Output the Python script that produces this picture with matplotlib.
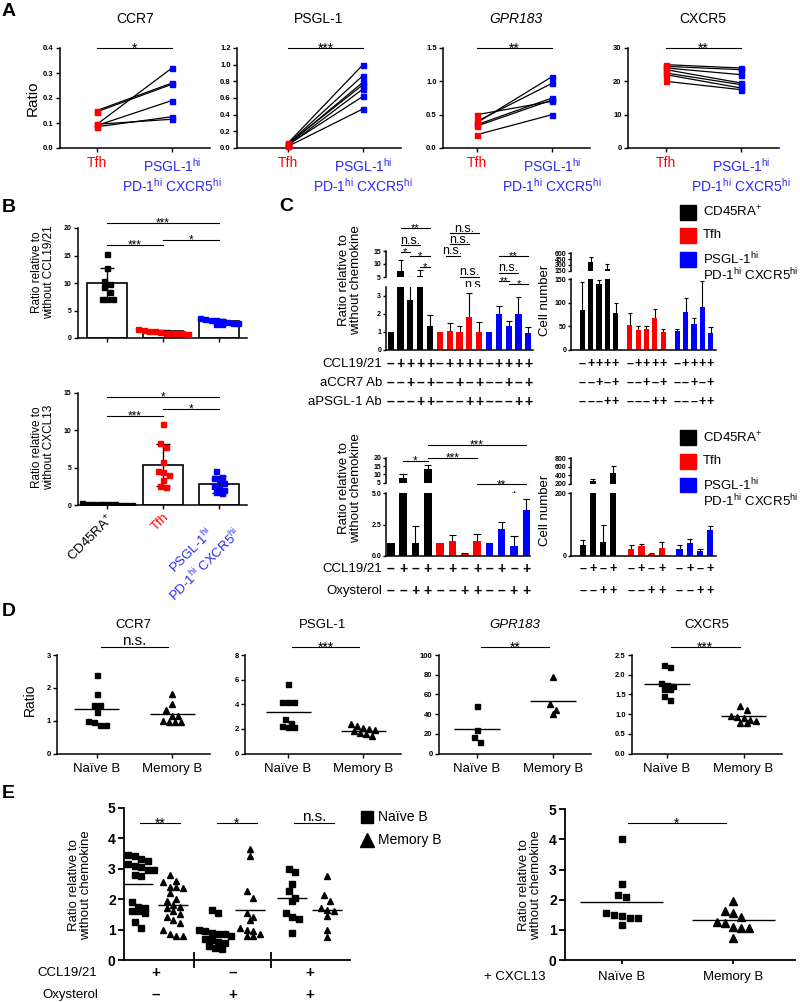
import numpy as np
import matplotlib
matplotlib.use("Agg")
import matplotlib.pyplot as plt
from matplotlib.transforms import blended_transform_factory as blend
from matplotlib.patches import Rectangle
from matplotlib.lines import Line2D

plt.rcParams['font.family'] = ['Liberation Sans', 'DejaVu Sans']
plt.rcParams['mathtext.fontset'] = 'custom'
plt.rcParams['mathtext.rm'] = 'Liberation Sans'
plt.rcParams['mathtext.it'] = 'Liberation Sans:italic'
plt.rcParams['mathtext.bf'] = 'Liberation Sans:bold'
plt.rcParams['mathtext.default'] = 'regular'

RED = '#ff0000'
BLUE = '#0000ff'
TBLUE = '#2a2aee'
PSGL = 'PSGL-1$^{hi}$\nPD-1$^{hi}$ CXCR5$^{hi}$'

# ==========================================================
# Data
# ==========================================================
# --- A: paired Tfh vs PSGL-1hi cells
a_titles = ['CCR7', 'PSGL-1', 'GPR183', 'CXCR5']
a_tfh = [[0.15, 0.145, 0.095, 0.09, 0.085, 0.095],
         [0.06, 0.05, 0.04, 0.05, 0.03, 0.04, 0.02],
         [0.5, 0.38, 0.4, 0.35, 0.33, 0.2],
         [25, 24.5, 24, 23.5, 22.5, 22, 20]]
a_psgl = [[0.26, 0.255, 0.32, 0.19, 0.125, 0.115],
          [1.0, 0.87, 0.79, 0.76, 0.71, 0.62, 0.47],
          [0.7, 1.07, 0.97, 0.75, 0.72, 0.5],
          [24, 23.5, 22, 19.5, 19, 18, 17.5]]
a_ymax = [0.4, 1.2, 1.5, 30]
a_ystep = [0.1, 0.2, 0.5, 10]
a_sig = ['*', '***', '**', '**']

# --- B: migration ratios, bars = mean +- SD
b_groups = ['CD45RA$^{+}$', 'Tfh', PSGL]
b_top_pts = [[15.3, 12.7, 10.4, 9.8, 9.3, 8.4, 7.1, 7.1, 7.1],
             [1.6, 1.5, 1.3, 1.2, 1.1, 1.0, 1.0, 0.9, 0.9, 0.8],
             [3.6, 3.5, 3.3, 3.3, 3.1, 3.0, 2.8, 2.7, 2.5, 2.5]]
b_top_mean = [10.0, 1.2, 3.05]
b_top_sd = [2.7, 0.3, 0.4]
b_bot_pts = [[0.3, 0.2, 0.2, 0.15, 0.1, 0.1, 0.1, 0.05, 0.05, 0.05],
             [10.8, 8.3, 7.8, 5.8, 4.6, 4.4, 4.0, 3.4, 2.6, 2.4],
             [4.5, 3.8, 3.6, 3.5, 3.0, 2.6, 2.4, 2.0, 1.7, 1.6]]
b_bot_mean = [0.12, 5.3, 2.75]
b_bot_sd = [0.08, 2.8, 1.1]

# --- C top: CCL19/21 +/- blocking antibodies (black, red, blue groups)
c1_ratio = [[1, 7.5, 2.75, 5.2, 1.35], [1, 1.05, 1.0, 1.8, 1.0], [1, 2.0, 1.35, 2.0, 0.92]]
c1_ratio_err = [[0, 4.0, 2.35, 2.4, 0.6], [0, 0.42, 0.32, 1.35, 0.55], [0, 0.45, 0.25, 0.95, 0.33]]
c1_cells = [[85, 370, 140, 200, 78], [52, 42, 45, 68, 37], [41, 80, 55, 91, 35]]
c1_cells_err = [[58, 130, 7, 130, 22], [27, 9, 5, 18, 7], [4, 30, 12, 55, 13]]
c1_ccl = ['–', '+', '+', '+', '+']
c1_accr7 = ['–', '–', '+', '–', '+']
c1_apsgl = ['–', '–', '–', '+', '+']

# --- C bottom: CCL19/21 +/- oxysterol
c2_ratio = [[1, 8.0, 1.0, 13.0], [1, 1.2, 0.1, 1.15], [1, 2.1, 0.8, 3.7]]
c2_ratio_err = [[0, 2.0, 1.35, 2.5], [0, 0.45, 0.15, 0.6], [0, 0.6, 0.75, 0.85]]
c2_cells = [[35, 280, 45, 450], [22, 30, 5, 25], [20, 40, 15, 82]]
c2_cells_err = [[15, 45, 55, 180], [12, 6, 3, 18], [15, 12, 8, 12]]
c2_ccl = ['–', '+', '–', '+']
c2_oxy = ['–', '–', '+', '+']

# --- D: naive vs memory B cells
d_titles = ['CCR7', 'PSGL-1', 'GPR183', 'CXCR5']
d_naive = [[2.4, 1.82, 1.48, 1.48, 1.25, 0.99, 0.97, 0.88, 0.88],
           [5.65, 4.18, 4.18, 4.18, 2.84, 2.5, 2.24, 2.18, 2.18],
           [48, 23.6, 16.4, 12.1],
           [2.25, 2.2, 1.8, 1.74, 1.71, 1.64, 1.64, 1.47, 1.37]]
d_memory = [[1.8, 1.5, 1.31, 1.13, 1.13, 0.99, 0.95, 0.95, 0.95],
            [2.4, 2.25, 2.05, 2.0, 1.9, 1.8, 1.7, 1.6, 1.4],
            [78, 50, 44, 40],
            [1.2, 1.1, 0.95, 0.92, 0.9, 0.85, 0.82, 0.78, 0.78]]
d_naive_mean = [1.37, 3.33, 25.2, 1.76]
d_memory_mean = [1.2, 1.83, 53.1, 0.95]
d_ymax = [3, 8, 100, 2.5]
d_ystep = [1, 2, 20, 0.5]
d_sig = ['n.s.', '***', '**', '***']

# --- E left: three conditions
e_naive = [[3.45, 3.4, 3.3, 3.25, 3.15, 3.15, 3.1, 3.05, 2.95, 2.95, 2.8, 2.75,
            1.9, 1.75, 1.7, 1.6, 1.6, 1.55, 1.25, 1.05],
           [1.65, 1.55, 1.0, 0.95, 0.9, 0.85, 0.85, 0.8, 0.7, 0.65, 0.6, 0.55, 0.45, 0.4, 0.35],
           [3.0, 2.9, 2.5, 2.25, 2.05, 1.95, 1.55, 1.4, 1.35, 0.9]]
e_memory = [[2.8, 2.6, 2.55, 2.4, 2.4, 2.35, 2.2, 2.0, 1.95, 1.8, 1.75, 1.7, 1.6, 1.5,
             1.4, 1.3, 1.2, 1.0, 0.85, 0.8, 0.8],
            [3.65, 3.4, 2.25, 2.05, 1.55, 1.4, 1.3, 1.05, 1.0, 0.95, 0.85, 0.8, 0.8],
            [2.75, 2.15, 1.95, 1.7, 1.65, 1.6, 1.45, 1.0, 0.75]]
e_naive_mean = [2.5, 0.9, 2.05]
e_memory_mean = [1.8, 1.65, 1.65]
e_sig = ['**', '*', 'n.s.']
e_ccl = ['+', '–', '+']
e_oxy = ['–', '+', '+']

# --- E right: + CXCL13
er_naive = [4.0, 2.52, 2.16, 2.1, 1.57, 1.49, 1.47, 1.4, 1.4, 1.16]
er_memory = [1.97, 1.63, 1.57, 1.44, 1.25, 1.22, 1.1, 1.07, 1.05, 0.72]
er_naive_mean = 1.91
er_memory_mean = 1.32


# ==========================================================
# Helpers (layout in pixels of the 800 x 1002 canvas)
# ==========================================================
W, H = 800, 1002
fig = plt.figure(figsize=(W / 100, H / 100), dpi=100)


def fx(x):
    return x / W


def fy(y):
    return 1 - y / H


def make_ax(left, top, right, bottom):
    ax = fig.add_axes([fx(left), fy(bottom), (right - left) / W, (bottom - top) / H])
    for s in ('top', 'right'):
        ax.spines[s].set_visible(False)
    for s in ('left', 'bottom'):
        ax.spines[s].set_linewidth(1.1)
    ax.tick_params(width=1, length=3, labelsize=5.5, pad=1.5)
    return ax


def cat_ax(spine, first, step, top, bottom, hi):
    # one x data unit = `step` pixels, x=0 sits at pixel `first`
    ax = make_ax(spine, top, first + hi * step, bottom)
    ax.set_xlim((spine - first) / step, hi)
    return ax


def bold_yticks(ax, size=5.5, fmt=None):
    ticks = ax.get_yticks()
    if fmt is not None:
        ax.set_yticklabels([fmt % t for t in ticks])
    for t in ax.get_yticklabels():
        t.set_fontweight('bold')
        t.set_fontsize(size)


def bracket(ax, x0, x1, ypx, label, fs=9, ns_fs=10):
    tr = blend(ax.transData, fig.transFigure)
    ax.plot([x0, x1], [fy(ypx), fy(ypx)], color='black', lw=0.8,
            transform=tr, clip_on=False)
    if '*' in label:
        # asterisks sit high in the em box: drop the baseline below the line
        off = 0.42 * fs * 100 / 72 - 1.2
        ax.text((x0 + x1) / 2, fy(ypx + off), label, transform=tr,
                ha='center', va='baseline', fontsize=fs)
    else:
        ax.text((x0 + x1) / 2, fy(ypx - 1.5), label, transform=tr,
                ha='center', va='baseline', fontsize=ns_fs)


def sign_row(ax, xs, signs, ypx, fs=10):
    tr = blend(ax.transData, fig.transFigure)
    for x, s in zip(xs, signs):
        ax.text(x, fy(ypx), s, transform=tr, ha='center', va='center',
                fontsize=fs, fontweight='bold')


def swarm(ax, vals, size_px):
    # spread equal-ish values side by side, like a scatter dot plot
    vals = np.asarray(vals, float)
    y0, y1 = ax.get_ylim()
    x0, x1 = ax.get_xlim()
    bb = ax.get_position()
    dy = size_px / (bb.height * H / (y1 - y0))
    dx = size_px / (bb.width * W / (x1 - x0))
    order = np.argsort(-vals, kind='stable')
    offs = np.zeros(len(vals))
    rows, cur, start = [], [], None
    for i in order:
        if cur and vals[start] - vals[i] > dy:
            rows.append(cur)
            cur = []
        if not cur:
            start = i
        cur.append(i)
    rows.append(cur)
    for r in rows:
        n = len(r)
        for k, i in enumerate(r):
            offs[i] = (k - (n - 1) / 2) * dx
    return offs


def err_up(ax, xs, vals, errs, cw=0.3):
    for x, v, e in zip(xs, vals, errs):
        if e <= 0:
            continue
        ax.vlines(x, v, v + e, color='black', lw=0.8, zorder=1)
        ax.hlines(v + e, x - cw, x + cw, color='black', lw=0.8, zorder=1)


def panel_letter(x, y, s):
    fig.text(fx(x), fy(y), s, fontsize=14, fontweight='bold', ha='left', va='top')


# ==========================================================
# A
# ==========================================================
a_spine = [60, 237, 443, 628]
a_first = [97, 288, 477, 666]
for i in range(4):
    ax = cat_ax(a_spine[i], a_first[i], 75, 48, 148, 1.5)
    for t, p in zip(a_tfh[i], a_psgl[i]):
        ax.plot([0, 1], [t, p], color='black', lw=0.9, zorder=2)
    ax.plot(np.zeros(len(a_tfh[i])), a_tfh[i], 's', color=RED, ms=3.6, zorder=3, clip_on=False)
    ax.plot(np.ones(len(a_psgl[i])), a_psgl[i], 's', color=BLUE, ms=3.6, zorder=3, clip_on=False)
    ax.set_ylim(0, a_ymax[i])
    ax.set_yticks(np.arange(0, a_ymax[i] + a_ystep[i] / 2, a_ystep[i]))
    bold_yticks(ax, 5.5, '%.1f' if a_ystep[i] < 1 else '%d')
    ax.set_xticks([0, 1])
    ax.set_xticklabels(['Tfh', PSGL], fontsize=10)
    ax.tick_params(axis='x', pad=3)
    ax.get_xticklabels()[0].set_color(RED)
    ax.get_xticklabels()[1].set_color(TBLUE)
    ax.text(0.5, fy(19), a_titles[i], transform=blend(ax.transAxes, fig.transFigure),
            ha='center', va='center', fontsize=10,
            style='italic' if a_titles[i] == 'GPR183' else 'normal')
    bracket(ax, 0, 1, 48, a_sig[i], fs=10)
fig.text(fx(33), fy(98), 'Ratio', rotation=90, ha='center', va='center', fontsize=11)

# ==========================================================
# B
# ==========================================================
b_cols = ['black', RED, BLUE]
b_specs = [(228, 338, 20, 5, b_top_pts, b_top_mean, b_top_sd,
            'Ratio relative to\nwithout CCL19/21', 272,
            [('***', 0, 2, 222.5), ('***', 0, 1, 245), ('*', 1, 2, 240)]),
           (392.7, 505, 15, 5, b_bot_pts, b_bot_mean, b_bot_sd,
            'Ratio relative to\nwithout CXCL13', 447,
            [('*', 0, 2, 396.7), ('***', 0, 1, 415.7), ('*', 1, 2, 409)])]
for k, (top, bot, ymax, ystep, pts, mean, sd, ylab, ylab_y, sigs) in enumerate(b_specs):
    ax = cat_ax(78, 107, 56, top, bot, 2.5)
    ax.set_ylim(0, ymax)
    ax.set_yticks(np.arange(0, ymax + 1, ystep))
    bold_yticks(ax, 5, '%d')
    ax.bar(range(3), mean, width=0.7, color='white', edgecolor='black', lw=1.2, zorder=1)
    ax.errorbar(range(3), mean, yerr=sd, fmt='none', ecolor='black', elinewidth=1,
                capsize=5, capthick=1, zorder=2)
    for g in range(3):
        offs = swarm(ax, pts[g], 5.5)
        ax.plot(g + offs, pts[g], 's', color=b_cols[g], ms=3.6, zorder=3)
    ax.set_xticks(range(3))
    if k == 0:
        ax.set_xticklabels([])
    else:
        ax.set_xticklabels(b_groups, rotation=45, ha='right', rotation_mode='anchor',
                           fontsize=9.5, multialignment='center')
        for lab, c in zip(ax.get_xticklabels(), ['black', RED, TBLUE]):
            lab.set_color(c)
    for lab, g0, g1, ypx in sigs:
        bracket(ax, g0, g1, ypx, lab, fs=8.5)
    fig.text(fx(43), fy(ylab_y), ylab, rotation=90, ha='center', va='center', fontsize=8.5,
             linespacing=1.1)

# ==========================================================
# C
# ==========================================================
c_cols = ['black', RED, BLUE]


def broken_bars(spine, first, step, hi, up_box, low_box, up_lim, low_lim, up_ticks,
                low_ticks, xs, vals, errs, cols, fmt_low='%d', cw=0.3):
    up = cat_ax(spine, first, step, up_box[0], up_box[1], hi)
    low = cat_ax(spine, first, step, low_box[0], low_box[1], hi)
    up.spines['bottom'].set_visible(False)
    up.tick_params(axis='x', length=0, labelbottom=False)
    low.tick_params(axis='x', length=0, labelbottom=False)
    for ax, lim, ticks, fmt in ((up, up_lim, up_ticks, '%d'), (low, low_lim, low_ticks, fmt_low)):
        ax.bar(xs, vals, width=0.62, color=cols, zorder=2)
        err_up(ax, xs, vals, errs, cw)
        ax.set_ylim(*lim)
        ax.set_yticks(ticks)
        bold_yticks(ax, 5, fmt)
        ax.tick_params(axis='y', length=2.5, pad=1)
    return up, low


# top-left: ratio
x1 = np.arange(15)
v1 = np.concatenate(c1_ratio)
e1 = np.concatenate(c1_ratio_err)
col15 = [c for c in c_cols for _ in range(5)]
up, low = broken_bars(386, 390.7, 9.83, 14.5, (251, 277), (286.6, 350), (5, 15), (0, 3.5),
                      [5, 10, 15], [0, 1, 2, 3], x1, v1, e1, col15)
for lab, i, j, ypx in [('**', 1, 4, 228), ('n.s.', 1, 3, 245), ('*', 1, 2, 252),
                       ('*', 2, 4, 255.5), ('*', 3, 4, 266.7),
                       ('n.s.', 6, 9, 233.3), ('n.s.', 6, 8, 244.3), ('n.s.', 5.6, 7, 256),
                       ('n.s.', 7, 9, 276.7), ('n.s.', 8, 9, 290),
                       ('**', 11, 14, 255.7), ('n.s.', 11, 13, 272.5), ('**', 11, 12, 280.5),
                       ('*', 12, 14, 283.8), ('*', 13, 14, 294.3)]:
    bracket(up, i, j, ypx, lab, fs=8, ns_fs=9)
sign_row(low, x1, c1_ccl * 3, 364)
sign_row(low, x1, c1_accr7 * 3, 383)
sign_row(low, x1, c1_apsgl * 3, 402)
for txt, ypx in [('CCL19/21', 364), ('aCCR7 Ab', 383), ('aPSGL-1 Ab', 402)]:
    fig.text(fx(382), fy(ypx), txt, ha='right', va='center', fontsize=9.5)

# top-right: cell number
x1c = np.array([g * 5.7 + k for g in range(3) for k in range(5)])
up, low = broken_bars(571, 582.3, 8.33, 16.0, (253.3, 270.7), (279, 350), (150, 600), (0, 150),
                      [150, 300, 450, 600], [0, 50, 100, 150], x1c,
                      np.concatenate(c1_cells), np.concatenate(c1_cells_err), col15, cw=0.25)
sign_row(low, x1c, c1_ccl * 3, 364, fs=9)
sign_row(low, x1c, c1_accr7 * 3, 383, fs=9)
sign_row(low, x1c, c1_apsgl * 3, 402, fs=9)

# bottom-left: ratio
x2 = np.arange(12)
col12 = [c for c in c_cols for _ in range(4)]
up, low = broken_bars(386, 390.7, 12.33, 11.3, (457.7, 482.7), (493.3, 555.7), (5, 20), (0, 5),
                      [5, 10, 15, 20], [0, 2.5, 5.0], x2, np.concatenate(c2_ratio),
                      np.concatenate(c2_ratio_err), col12, fmt_low='%.1f')
for lab, i, j, ypx in [('***', 3, 11, 445), ('***', 3, 7, 457.7), ('*', 1, 3, 461),
                       ('**', 7, 11, 484.3), ('*', 9, 11, 495.7), ('n.s.', 5, 7, 530)]:
    bracket(up, i, j, ypx, lab, fs=8.5, ns_fs=10)
sign_row(low, x2, c2_ccl * 3, 569)
sign_row(low, x2, c2_oxy * 3, 591)
for txt, ypx in [('CCL19/21', 569), ('Oxysterol', 591)]:
    fig.text(fx(382), fy(ypx), txt, ha='right', va='center', fontsize=9.5)

# bottom-right: cell number
x2c = np.array([g * 4.75 + k for g in range(3) for k in range(4)])
up, low = broken_bars(571, 582.7, 10.2, 13.1, (458.3, 484), (493.3, 555.7), (200, 800), (0, 200),
                      [200, 400, 600, 800], [0, 200], x2c, np.concatenate(c2_cells),
                      np.concatenate(c2_cells_err), col12, cw=0.25)
sign_row(low, x2c, c2_ccl * 3, 569, fs=9)
sign_row(low, x2c, c2_oxy * 3, 591, fs=9)

for ypx in (280, 488):
    fig.text(fx(350), fy(ypx), 'Ratio relative to\nwithout chemokine', rotation=90,
             ha='center', va='center', fontsize=9.5, linespacing=1.1)
for ypx in (300, 510):
    fig.text(fx(545), fy(ypx), 'Cell number', rotation=90, ha='center', va='center',
             fontsize=9.5)

# legends
leg_labels = ['CD45RA$^{+}$', 'Tfh', 'PSGL-1$^{hi}$']
for base in (212, 438):
    for k, (lab, c) in enumerate(zip(leg_labels, c_cols)):
        yc = base + k * 23.5
        fig.add_artist(Rectangle((fx(680), fy(yc + 7.5)), 16 / W, 15 / H,
                                 transform=fig.transFigure, color=c))
        fig.text(fx(703), fy(yc), lab, ha='left', va='center', fontsize=9.5)
    fig.text(fx(703), fy(base + 2 * 23.5 + 16), 'PD-1$^{hi}$ CXCR5$^{hi}$', ha='left',
             va='center', fontsize=9.5)

# ==========================================================
# D
# ==========================================================
d_spine = [57, 245, 439, 632]
d_first = [97, 288, 477, 667]
d_step = [75, 75, 76, 76.5]
for i in range(4):
    ax = cat_ax(d_spine[i], d_first[i], d_step[i], 655, 753.5, 1.5)
    ax.set_ylim(0, d_ymax[i])
    ax.set_yticks(np.arange(0, d_ymax[i] + d_ystep[i] / 2, d_ystep[i]))
    bold_yticks(ax, 5.5, '%.1f' if d_ystep[i] < 1 else '%d')
    for g, (pts, mk, mean) in enumerate([(d_naive[i], 's', d_naive_mean[i]),
                                         (d_memory[i], '^', d_memory_mean[i])]):
        offs = swarm(ax, pts, 6.2)
        ax.plot(g + offs, pts, mk, color='black', ms=3.6 if mk == 's' else 4)
        ax.hlines(mean, g - 0.3, g + 0.3, color='black', lw=1)
    ax.set_xticks([0, 1])
    ax.set_xticklabels(['Naïve B', 'Memory B'], fontsize=9.5)
    ax.tick_params(axis='x', pad=4)
    ax.text(0.5, fy(625), d_titles[i], transform=blend(ax.transAxes, fig.transFigure),
            ha='center', va='center', fontsize=9.5,
            style='italic' if d_titles[i] == 'GPR183' else 'normal')
    bracket(ax, 0.05, 0.95, 646.7, d_sig[i], fs=10, ns_fs=11)
fig.text(fx(30), fy(700), 'Ratio', rotation=90, ha='center', va='center', fontsize=10)

# ==========================================================
# E left
# ==========================================================
e_pos = [0, 1, 2.2, 3.2, 4.4, 5.4]
ax = cat_ax(124, 138, 35, 807.7, 960, 6.05)
ax.set_ylim(0, 5)
ax.set_yticks(range(6))
bold_yticks(ax, 10, '%d')
ax.tick_params(axis='y', length=4, width=1.3, pad=2)
for s in ('left', 'bottom'):
    ax.spines[s].set_linewidth(1.3)
for g in range(3):
    xn, xm = e_pos[2 * g], e_pos[2 * g + 1]
    offs = swarm(ax, e_naive[g], 6.5)
    ax.plot(xn + offs, e_naive[g], 's', color='black', ms=4.6)
    offs = swarm(ax, e_memory[g], 6.5)
    ax.plot(xm + offs, e_memory[g], '^', color='black', ms=4.8)
    ax.hlines(e_naive_mean[g], xn - 0.42, xn + 0.42, color='black', lw=1)
    ax.hlines(e_memory_mean[g], xm - 0.42, xm + 0.42, color='black', lw=1)
    bracket(ax, xn + 0.05, xm + 0.2, 822.7, e_sig[g], fs=10, ns_fs=11)
ax.set_xticks([1.6, 3.8])
ax.set_xticklabels([])
ax.tick_params(axis='x', direction='inout', length=12, width=1.3)
centers = [(e_pos[2 * g] + e_pos[2 * g + 1]) / 2 for g in range(3)]
sign_row(ax, centers, e_ccl, 973, fs=11)
sign_row(ax, centers, e_oxy, 995, fs=11)
fig.text(fx(97), fy(973), 'CCL19/21', ha='right', va='center', fontsize=9.5)
fig.text(fx(98), fy(995), 'Oxysterol', ha='right', va='center', fontsize=9.5)
fig.text(fx(80), fy(885), 'Ratio relative to\nwithout chemokine', rotation=90,
         ha='center', va='center', fontsize=9.5, linespacing=1.1)

# legend E
fig.add_artist(Line2D([fx(367)], [fy(817)], marker='s', ms=8.5, color='black',
                      transform=fig.transFigure))
fig.add_artist(Line2D([fx(367)], [fy(840)], marker='^', ms=10, color='black',
                      transform=fig.transFigure))
fig.text(fx(378), fy(817), 'Naïve B', ha='left', va='center', fontsize=10)
fig.text(fx(378), fy(840), 'Memory B', ha='left', va='center', fontsize=10)

# ==========================================================
# E right
# ==========================================================
ax = cat_ax(565, 621.7, 111.7, 809.3, 960, 1.55)
ax.set_ylim(0, 5)
ax.set_yticks(range(6))
bold_yticks(ax, 10, '%d')
ax.tick_params(axis='y', length=4, width=1.3, pad=2)
for s in ('left', 'bottom'):
    ax.spines[s].set_linewidth(1.3)
for g, (pts, mk, mean) in enumerate([(er_naive, 's', er_naive_mean),
                                     (er_memory, '^', er_memory_mean)]):
    offs = swarm(ax, pts, 8)
    ax.plot(g + offs, pts, mk, color='black', ms=5 if mk == 's' else 5.3)
    ax.hlines(mean, g - 0.37, g + 0.37, color='black', lw=1)
ax.set_xticks([0, 1])
ax.set_xticklabels(['Naïve B', 'Memory B'], fontsize=9.5)
ax.tick_params(axis='x', pad=5, width=1.3)
bracket(ax, 0.06, 0.93, 822.7, '*', fs=10)
fig.text(fx(545), fy(977), '+ CXCL13', ha='right', va='center', fontsize=9.5)
fig.text(fx(530), fy(885), 'Ratio relative to\nwithout chemokine', rotation=90,
         ha='center', va='center', fontsize=9.5, linespacing=1.1)

# panel letters
panel_letter(2, 3, 'A')
panel_letter(2, 199, 'B')
panel_letter(279, 198, 'C')
panel_letter(2, 603, 'D')
panel_letter(2, 785, 'E')

fig.savefig('out.png', dpi=100)
